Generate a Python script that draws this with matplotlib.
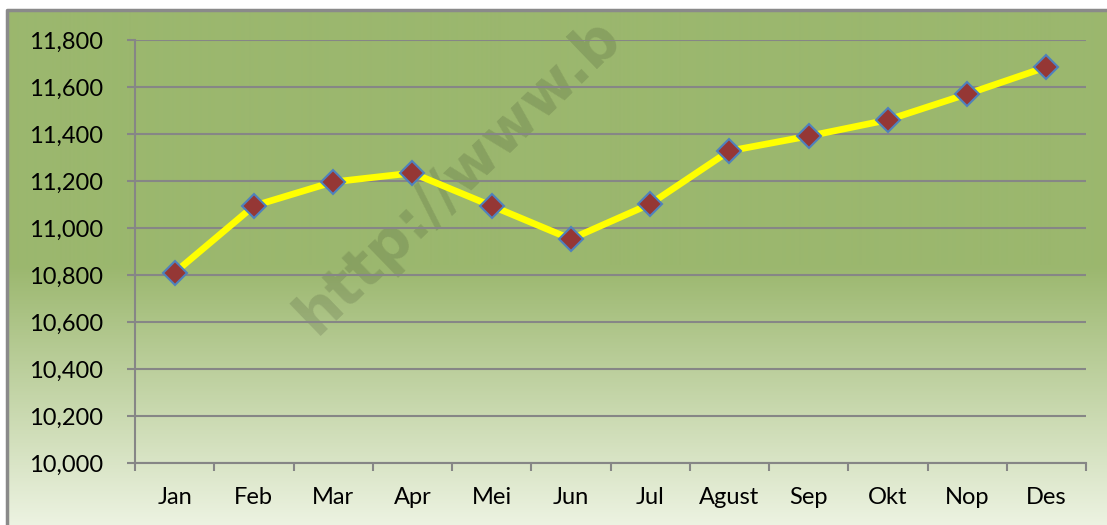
import numpy as np
import matplotlib
matplotlib.use("Agg")
import matplotlib.pyplot as plt
from matplotlib.ticker import FuncFormatter, FixedLocator

plt.rcParams['font.family'] = ['Lato', 'DejaVu Sans']

months = ['Jan', 'Feb', 'Mar', 'Apr', 'Mei', 'Jun', 'Jul', 'Agust', 'Sep', 'Okt', 'Nop', 'Des']
values = [10810, 11094, 11196, 11234, 11094, 10953, 11102, 11328, 11391, 11460, 11570, 11685]
y_ticks = [10000, 10200, 10400, 10600, 10800, 11000, 11200, 11400, 11600, 11800]

W, H = 1107, 525
fig = plt.figure(figsize=(W / 100, H / 100), dpi=100)

# background panel with gradient fill
bg = fig.add_axes([0, 0, 1, 1], zorder=0)
bg.set_xlim(0, W)
bg.set_ylim(H, 0)
bg.axis('off')
top_c = np.array([155, 183, 110]) / 255
bot_c = np.array([237, 243, 226]) / 255
rows = np.arange(10, H)
t = np.clip((rows - 265) / (H - 265), 0, 1)[:, None]
grad = top_c * (1 - t) + bot_c * t
grad = np.repeat(grad[:, None, :], 2, axis=1)
bg.imshow(grad, extent=(7, W, H, 10), aspect='auto', interpolation='bilinear')
bg.fill_between([0, W], 0, 10, color='white', zorder=5)
bg.plot([7, 7, W], [H, 10, 10], color='#8a8a8a', lw=2.5, zorder=6)
# watermark
bg.text(316, 336, 'http://www.b', rotation=44, rotation_mode='anchor',
        ha='left', va='baseline', fontsize=42, fontweight='bold',
        family='DejaVu Sans', color='black', alpha=0.12, zorder=7)

ax = fig.add_axes([135 / W, 1 - 463 / H, (1086 - 135) / W, (463 - 40) / H], zorder=1)
ax.set_facecolor('none')
x = np.arange(len(months))
ax.plot(x, values, color='#ffff00', lw=4.8, marker='D', markersize=12,
        markerfacecolor='#953735', markeredgecolor='#4f81bd', markeredgewidth=1.5,
        zorder=3)

ax.set_xlim(-0.5, len(months) - 0.5)
ax.set_ylim(10000, 11800)
ax.set_yticks(y_ticks)
ax.yaxis.set_major_formatter(FuncFormatter(lambda v, p: f'{int(v):,}'))
ax.set_xticks(x)
ax.set_xticklabels(months)
ax.xaxis.set_minor_locator(FixedLocator(np.arange(-0.5, len(months), 1)))
ax.tick_params(axis='x', which='major', length=0, pad=17, labelsize=17)
ax.tick_params(axis='x', which='minor', length=6, width=1.5, color='#868686', direction='out')
ax.tick_params(axis='y', length=6, width=1.5, color='#868686', pad=17, labelsize=17)
ax.grid(axis='y', color='#868686', lw=1.5)
ax.set_axisbelow(True)
for s in ['top', 'right']:
    ax.spines[s].set_visible(False)
for s in ['left', 'bottom']:
    ax.spines[s].set_color('#868686')
    ax.spines[s].set_linewidth(1.5)

fig.savefig('out.png', dpi=100)
